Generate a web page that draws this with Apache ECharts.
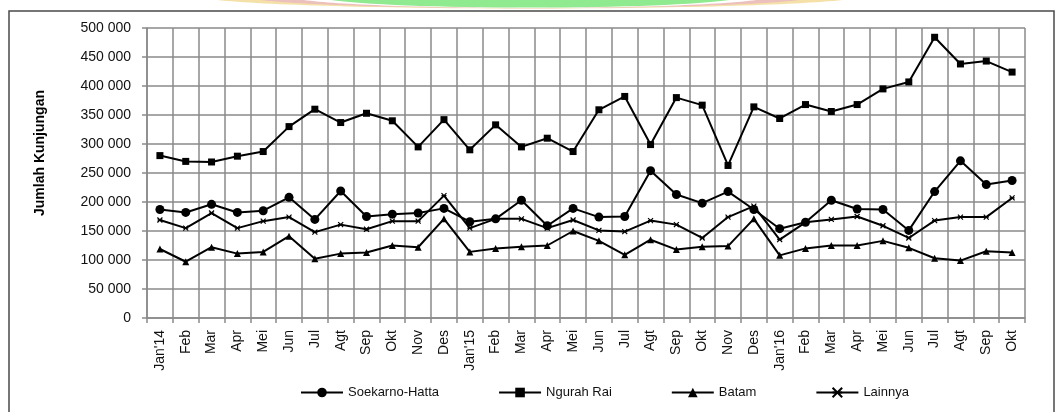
<!DOCTYPE html>
<html>
<head>
<meta charset="utf-8">
<script src="https://cdn.jsdelivr.net/npm/echarts@6/dist/echarts.min.js"></script>
<style>
  html, body { margin: 0; padding: 0; background: #fff; }
  #chart { width: 1055px; height: 412px; }
</style>
</head>
<body>
<div id="chart"></div>
<script>
// Monthly visits by entry point, Jan 2014 – Oct 2016
var months = ["Jan'14", 'Feb', 'Mar', 'Apr', 'Mei', 'Jun', 'Jul', 'Agt', 'Sep', 'Okt', 'Nov', 'Des',
              "Jan'15", 'Feb', 'Mar', 'Apr', 'Mei', 'Jun', 'Jul', 'Agt', 'Sep', 'Okt', 'Nov', 'Des',
              "Jan'16", 'Feb', 'Mar', 'Apr', 'Mei', 'Jun', 'Jul', 'Agt', 'Sep', 'Okt'];

var soekarnoHatta = [187000, 182000, 196000, 182000, 185000, 208000, 170000, 219000, 175000, 179000, 181000, 189000,
                     166000, 171000, 203000, 159000, 189000, 174000, 175000, 254000, 213000, 198000, 218000, 187000,
                     154000, 165000, 203000, 188000, 187000, 151000, 218000, 271000, 230000, 237000];

var ngurahRai = [280000, 270000, 269000, 279000, 287000, 330000, 360000, 337000, 353000, 340000, 295000, 342000,
                 290000, 333000, 295000, 310000, 287000, 359000, 382000, 299000, 380000, 367000, 263000, 364000,
                 344000, 368000, 356000, 368000, 395000, 407000, 484000, 438000, 443000, 424000];

var batam = [119000, 97000, 122000, 111000, 114000, 141000, 102000, 111000, 113000, 125000, 122000, 171000,
             114000, 120000, 123000, 125000, 150000, 133000, 109000, 135000, 118000, 123000, 124000, 171000,
             108000, 120000, 125000, 125000, 133000, 121000, 103000, 99000, 115000, 113000];

var lainnya = [169000, 155000, 181000, 155000, 167000, 174000, 148000, 161000, 153000, 167000, 167000, 211000,
               155000, 171000, 171000, 155000, 169000, 151000, 149000, 168000, 161000, 138000, 174000, 193000,
               135000, 165000, 170000, 175000, 159000, 138000, 168000, 174000, 174000, 207000];

var seriesNames = ['Soekarno-Hatta', 'Ngurah Rai', 'Batam', 'Lainnya'];
var yAxisTitle = 'Jumlah Kunjungan';

var FONT = "'Liberation Sans', Arial, sans-serif";
var GRID_COLOR = '#8a8a8a';

function spaced(v) {
  return String(v).replace(/\B(?=(\d{3})+(?!\d))/g, ' ');
}

function lineSeries(name, data, symbol, size, extra) {
  var s = {
    name: name,
    type: 'line',
    data: data,
    symbol: symbol,
    symbolSize: size,
    showAllSymbol: true,
    lineStyle: { color: '#000', width: 2 },
    itemStyle: { color: '#000', borderColor: '#000', borderWidth: 0 },
    emphasis: { disabled: true },
    animation: false
  };
  if (extra) { for (var k in extra) s[k] = extra[k]; }
  return s;
}

var chart = echarts.init(document.getElementById('chart'), null, { renderer: 'canvas' });

chart.setOption({
  backgroundColor: '#fff',
  animation: false,
  textStyle: { fontFamily: FONT },
  grid: { left: 147, right: 30, top: 28, bottom: 94 },
  xAxis: {
    type: 'category',
    data: months,
    boundaryGap: true,
    axisLine: { show: true, lineStyle: { color: GRID_COLOR, width: 1.5 } },
    axisTick: { show: true, length: 5, interval: 0, lineStyle: { color: GRID_COLOR, width: 1.5 } },
    splitLine: { show: true, interval: 0, lineStyle: { color: GRID_COLOR, width: 1.5 } },
    axisLabel: { interval: 0, rotate: 90, margin: 12, color: '#111', fontSize: 14, fontFamily: FONT }
  },
  yAxis: {
    type: 'value',
    min: 0,
    max: 500000,
    interval: 50000,
    axisLine: { show: true, lineStyle: { color: GRID_COLOR, width: 1.5 } },
    axisTick: { show: true, length: 5, lineStyle: { color: GRID_COLOR, width: 1.5 } },
    splitLine: { show: true, lineStyle: { color: GRID_COLOR, width: 1.5 } },
    axisLabel: { margin: 16, color: '#111', fontSize: 14, fontFamily: FONT, formatter: spaced }
  },
  legend: {
    data: seriesNames,
    left: 295,
    top: 381,
    itemWidth: 42,
    itemHeight: 12,
    itemGap: 59,
    textStyle: { color: '#111', fontSize: 13, fontFamily: FONT }
  },
  series: [
    lineSeries(seriesNames[0], soekarnoHatta, 'circle', 9),
    lineSeries(seriesNames[1], ngurahRai, 'rect', 7),
    lineSeries(seriesNames[2], batam, 'triangle', 7),
    lineSeries(seriesNames[3], lainnya, 'path://M0,0L10,10M10,0L0,10M0,5L10,5', 5, {
      itemStyle: { color: '#000', borderColor: '#000', borderWidth: 1.2 }
    })
  ],
  graphic: [
    // Faint logo band along the top edge
    { type: 'ellipse', z: -10, silent: true, shape: { cx: 530, cy: -4, rx: 330, ry: 12.5 }, style: { fill: '#f5e1a8' } },
    { type: 'ellipse', z: -9, silent: true, shape: { cx: 530, cy: -4, rx: 285, ry: 12.2 }, style: { fill: '#ecc0bd' } },
    { type: 'ellipse', z: -8, silent: true, shape: { cx: 530, cy: -4, rx: 240, ry: 11.9 }, style: { fill: '#ffffff' } },
    { type: 'ellipse', z: -7, silent: true, shape: { cx: 530, cy: -4, rx: 212, ry: 11.6 }, style: { fill: '#90ea90' } },
    // Outer frame
    { type: 'rect', z: 5, silent: true, shape: { x: 9, y: 11, width: 1045, height: 420 },
      style: { fill: null, stroke: '#4a4a4a', lineWidth: 1.5 } },
    // Vertical axis title
    { type: 'text', z: 5, silent: true, x: 40, y: 153, rotation: Math.PI / 2,
      style: { text: yAxisTitle, fill: '#000', font: 'bold 14px ' + FONT, align: 'center', verticalAlign: 'middle' } }
  ]
});
</script>
</body>
</html>
